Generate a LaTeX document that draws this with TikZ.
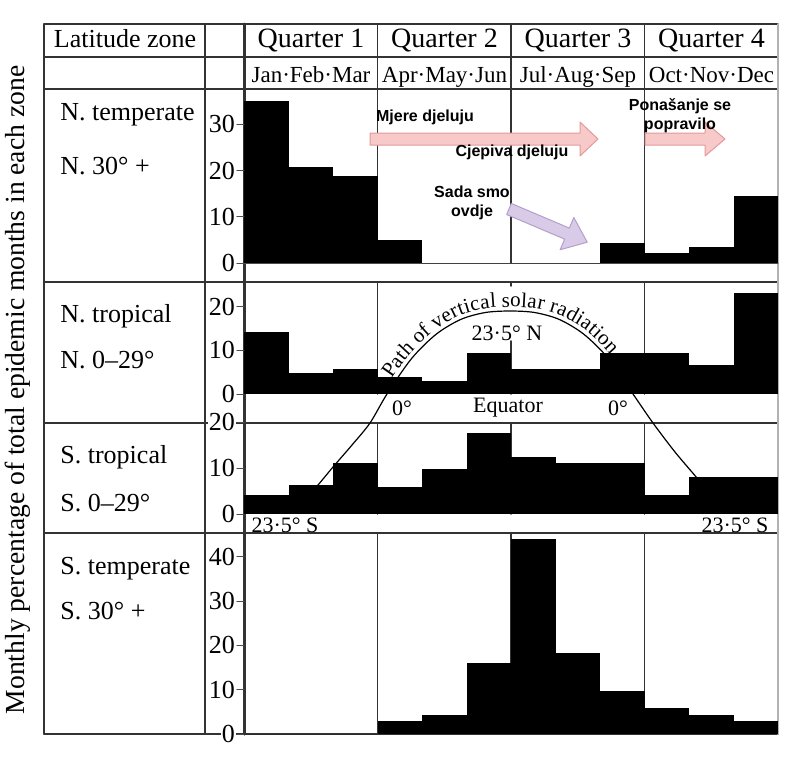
\documentclass[tikz,border=0pt]{standalone}
\usepackage{fontspec}
\setmainfont{Liberation Serif}
\newfontfamily\notefont{Liberation Sans}
\usetikzlibrary{decorations.text}
\definecolor{pinkfill}{HTML}{F8C9C9}
\definecolor{pinkedge}{HTML}{E39A9A}
\definecolor{lilacfill}{HTML}{D9CBE8}
\definecolor{lilacedge}{HTML}{B39FCC}

\begin{document}
\begin{tikzpicture}[line cap=round,line join=round,x=0.5pt,y=-0.5pt,
  rule/.style={draw=black!80,line width=0.9pt},
  qline/.style={draw=black!80,line width=0.8pt},
  tickmark/.style={draw=black!70,line width=0.5pt},
  ticklab/.style={anchor=east,fill=white,inner sep=0.6pt,font=\fontsize{13}{15}\selectfont},
  head/.style={anchor=base,inner sep=0pt,font=\fontsize{13}{15}\selectfont},
  zone/.style={anchor=base west,inner sep=0pt,font=\fontsize{13}{15}\selectfont},
  small/.style={inner sep=0pt,font=\fontsize{11}{13}\selectfont},
  note/.style={inner sep=0pt,align=center,font=\notefont\bfseries\fontsize{8}{9.5}\selectfont}]
\useasboundingbox (0,0) rectangle (800,757);
% table rules
\foreach \y in {24,57,89,282,423,533,734} \draw[rule] (44,\y) -- (778,\y);
\foreach \x in {44,205} \draw[rule] (\x,24) -- (\x,734);
\draw[rule,line width=1.5pt] (244,24) -- (244,734);
\draw[draw=black!30,line width=1pt] (778,24) -- (778,734);
\foreach \x in {377.5,511,644.5} {
  \draw[qline] (\x,24) -- (\x,263);
  \draw[qline] (\x,423) -- (\x,514);
  \draw[qline] (\x,533) -- (\x,734);
}
\draw[qline] (377.5,282) -- (377.5,394);
\draw[qline] (644.5,282) -- (644.5,394);
\draw[qline] (511,282) -- (511,286);
\draw[qline] (511,341) -- (511,394);
% header
\node[head] (latzone) at (125,47) {Latitude zone};
\node[head,font=\fontsize{14}{16}\selectfont] (q1) at (311,47) {Quarter 1};
\node[head,font=\fontsize{14}{16}\selectfont] (q2) at (444.5,47) {Quarter 2};
\node[head,font=\fontsize{14}{16}\selectfont] (q3) at (578,47) {Quarter 3};
\node[head,font=\fontsize{14}{16}\selectfont] (q4) at (711.5,47) {Quarter 4};
\node[head,font=\fontsize{11.5}{14}\selectfont] (m1) at (311,82) {Jan·Feb·Mar};
\node[head,font=\fontsize{11.5}{14}\selectfont] (m2) at (444.5,82) {Apr·May·Jun};
\node[head,font=\fontsize{11.5}{14}\selectfont] (m3) at (578,82) {Jul·Aug·Sep};
\node[head,font=\fontsize{11.5}{14}\selectfont] (m4) at (711.5,82) {Oct·Nov·Dec};
\node[rotate=90,font=\fontsize{13.8}{16}\selectfont] (ylab) at (18,390) {Monthly percentage of total epidemic months in each zone};
% zones
\node[zone] (ntemp) at (60,120) {N. temperate};
\node[zone] (ntempdeg) at (60,174) {N. 30° +};
\node[zone] (ntrop) at (60,322) {N. tropical};
\node[zone] (ntropdeg) at (60,368) {N. 0–29°};
\node[zone] (strop) at (60,463) {S. tropical};
\node[zone] (stropdeg) at (60,511) {S. 0–29°};
\node[zone] (stemp) at (60,574) {S. temperate};
\node[zone] (stempdeg) at (60,619) {S. 30° +};
% path of the sun
\draw[line width=0.6pt] plot[smooth] coordinates {(300,505) (318,485) (333,467) (352,445) (370,423) (387,394) (411.6,358.5) (436.2,334.2) (460.8,319.4) (485.4,312.5) (510,311) (534.6,312.5) (559.2,319.4) (583.8,334.2) (608.4,358.5) (633,394) (653,423) (675,452) (697,478) (715,500)};
\node[small] (north) at (507,333) {23·5° N};
\node[small] (equator) at (508,408) {Equator};
\node[small] (zerol) at (402,408) {0°};
\node[small] (zeror) at (618,408) {0°};
\node[small] (southl) at (285,525) {23·5° S};
\node[small] (southr) at (735,525) {23·5° S};
% N temperate
\begin{scope}[shift={(244,263)},xscale=44.5,yscale=-4.62]
\draw[tickmark] (0,0) -- (12,0);
\foreach \v [count=\m from 0] in {35,20.8,18.8,5,0,0,0,0,4.3,2.2,3.5,14.5}
  \fill (\m,0) rectangle (\m+1,\v);
\foreach \t in {0,10,20,30} {
  \draw[tickmark] (-0.16,\t) -- (0,\t);
  \node[ticklab] (ntemp\t) at (-0.17,\t) {\t};
}
\end{scope}
% N tropical
\begin{scope}[shift={(244,394)},xscale=44.5,yscale=-4.37]
\foreach \v [count=\m from 0] in {14.1,4.9,5.7,4,3,9.3,5.7,5.7,9.3,9.3,6.6,23}
  \fill (\m,0) rectangle (\m+1,\v);
\foreach \t in {0,10,20} {
  \draw[tickmark] (-0.16,\t) -- (0,\t);
  \node[ticklab] (ntrop\t) at (-0.17,\t) {\t};
}
\end{scope}
% S tropical
\begin{scope}[shift={(244,514)},xscale=44.5,yscale=-4.6]
\foreach \v [count=\m from 0] in {4.1,6.4,11,5.9,9.8,17.7,12.5,11,11,4.1,8,8}
  \fill (\m,0) rectangle (\m+1,\v);
\foreach \t in {0,10,20} {
  \draw[tickmark] (-0.16,\t) -- (0,\t);
  \node[ticklab] (strop\t) at (-0.17,\t) {\t};
}
\end{scope}
% S temperate
\begin{scope}[shift={(244,734)},xscale=44.5,yscale=-4.43]
\foreach \v [count=\m from 0] in {0,0,0,2.9,4.3,16.1,44,18.2,9.8,5.9,4.3,2.9}
  \fill (\m,0) rectangle (\m+1,\v);
\foreach \t in {0,10,20,30,40} {
  \draw[tickmark] (-0.16,\t) -- (0,\t);
  \node[ticklab] (stemp\t) at (-0.17,\t) {\t};
}
\end{scope}
\path[decorate,decoration={text along path,raise=2pt,
  text={|\fontsize{10.5}{12}\selectfont|Path of vertical solar radiation}}]
  plot[smooth] coordinates {(395,381) (411.6,358.5) (436.2,334.2) (460.8,319.4) (485.4,312.5) (510,311) (534.6,312.5) (559.2,319.4) (583.8,334.2) (608.4,358.5) (633,394)};
% notes
\filldraw[fill=pinkfill,draw=pinkedge,line width=0.5pt] (370,133) -- (580,133) -- (580,122) -- (598,139) -- (580,156) -- (580,145) -- (370,145) -- cycle;
\filldraw[fill=pinkfill,draw=pinkedge,line width=0.5pt] (645,133) -- (705,133) -- (705,122) -- (725,139) -- (705,156) -- (705,145) -- (645,145) -- cycle;
\begin{scope}[shift={(509,209)},rotate=-23]
\filldraw[fill=lilacfill,draw=lilacedge,line width=0.5pt] (0,-6) -- (63,-6) -- (63,-17.5) -- (85,0) -- (63,17.5) -- (63,6) -- (0,6) -- cycle;
\end{scope}
\node[note] (mjere) at (425,117) {Mjere djeluju};
\node[note] (cjepiva) at (512,152) {Cjepiva djeluju};
\node[note] (ponasanje) at (680,116) {Ponašanje se\\popravilo};
\node[note] (sada) at (472,203) {Sada smo\\ovdje};
\end{tikzpicture}
\end{document}
